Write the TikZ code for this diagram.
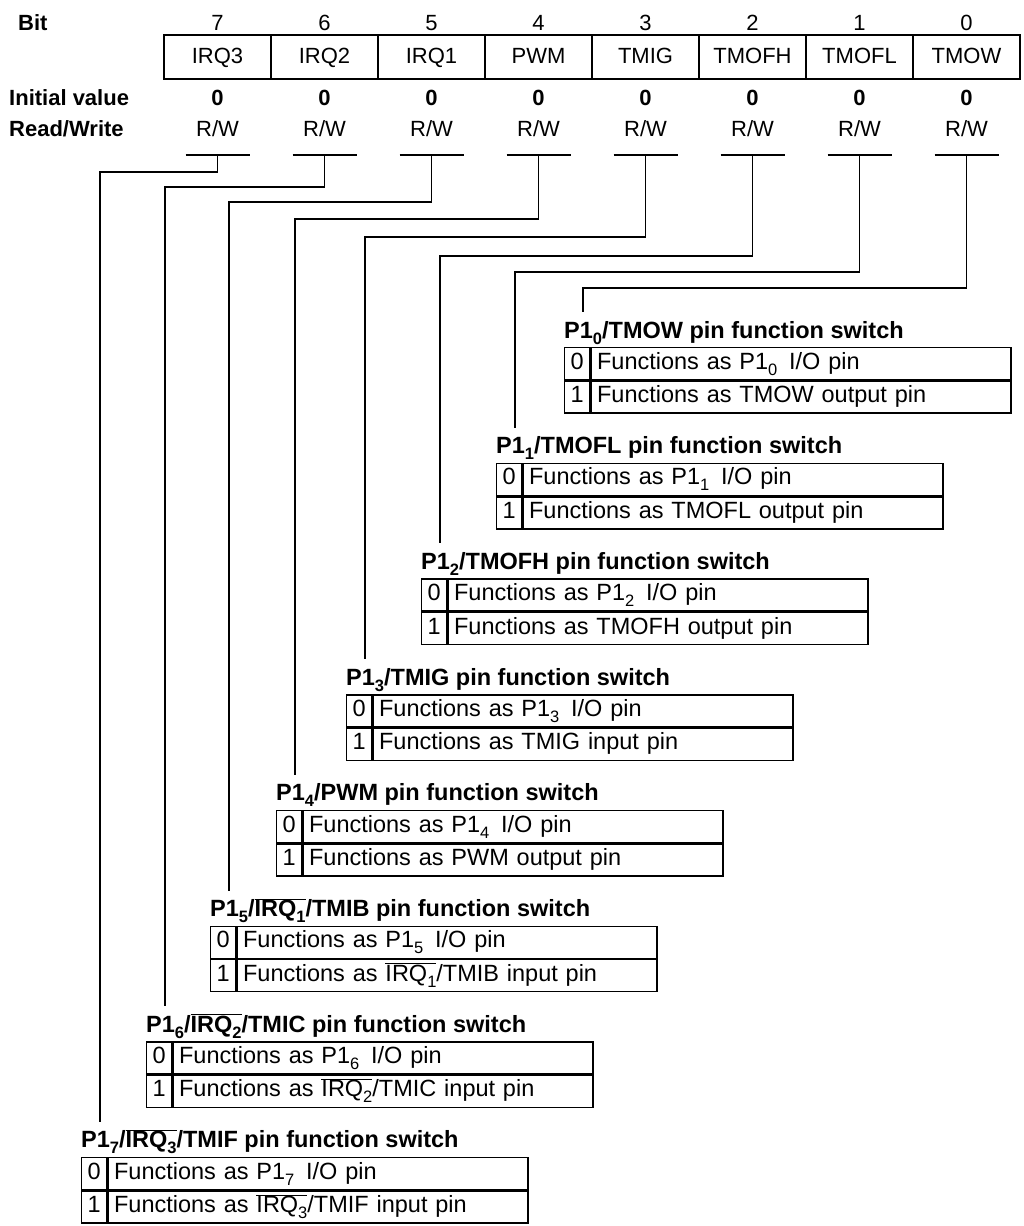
\documentclass[tikz,border=0pt]{standalone}
\usepackage{fontspec}
\setmainfont{Liberation Sans}
\usetikzlibrary{calc}
\newcommand{\sbs}[1]{\raisebox{-6pt}{\fontsize{16.5}{16.5}\selectfont #1}}
\newcommand{\myovl}[1]{$\overline{\hbox{#1}}$}
\newcommand{\pintable}[5]{%
  \pgfmathsetmacro{\ty}{330+115.7*#1}%
  \node[ttl] (t#1) at (#2-19, \ty+8) {#3};
  \coordinate (e#1) at (#2, \ty-18);
  \node[dig] (z#1) at (#2-19, \ty+17) {0};
  \node[txt] (r#1) at (z#1.north east) {#4};
  \node[dig] (o#1) at (z#1.south west) {1};
  \node[txt] (s#1) at (o#1.north east) {#5};
}
\begin{document}
\begin{tikzpicture}[x=1pt,y=-1pt,
  every node/.style={font=\fontsize{22}{26}\selectfont, inner sep=0pt},
  lbl/.style={font=\fontsize{22}{26}\selectfont\bfseries, anchor=base west},
  cell/.style={draw, line width=1.4pt, minimum width=107pt, minimum height=44pt, text height=16pt, text depth=4pt},
  wire/.style={line width=1.6pt},
  ttl/.style={font=\fontsize{23.5}{27}\selectfont\bfseries, anchor=base west},
  dig/.style={draw, line width=1.4pt, minimum width=25pt, minimum height=32pt, anchor=north west, text height=16pt, text depth=5pt, font=\fontsize{23.5}{27}\selectfont},
  txt/.style={draw, line width=1.4pt, minimum width=420pt, minimum height=32pt, anchor=north west, text width=408pt, align=left, inner xsep=6pt, text height=16pt, text depth=5pt, font=\fontsize{23.5}{27}\selectfont}
]
\useasboundingbox (0,0) rectangle (1024,1226);
\node[lbl] (bitl) at (18,30) {Bit};
\node[lbl] (ivl) at (9,105) {Initial value};
\node[lbl] (rwl) at (9,136) {Read/Write};

\pintable{0}{583}{P1\sbs{0}/TMOW pin function switch}{Functions as P1\sbs{0}\, I/O pin}{Functions as TMOW output pin}
\pintable{1}{515}{P1\sbs{1}/TMOFL pin function switch}{Functions as P1\sbs{1}\, I/O pin}{Functions as TMOFL output pin}
\pintable{2}{440}{P1\sbs{2}/TMOFH pin function switch}{Functions as P1\sbs{2}\, I/O pin}{Functions as TMOFH output pin}
\pintable{3}{365}{P1\sbs{3}/TMIG pin function switch}{Functions as P1\sbs{3}\, I/O pin}{Functions as TMIG input pin}
\pintable{4}{295}{P1\sbs{4}/PWM pin function switch}{Functions as P1\sbs{4}\, I/O pin}{Functions as PWM output pin}
\pintable{5}{229}{P1\sbs{5}/\myovl{IRQ\sbs{1}}/TMIB pin function switch}{Functions as P1\sbs{5}\, I/O pin}{Functions as \myovl{IRQ\sbs{1}}/TMIB input pin}
\pintable{6}{165}{P1\sbs{6}/\myovl{IRQ\sbs{2}}/TMIC pin function switch}{Functions as P1\sbs{6}\, I/O pin}{Functions as \myovl{IRQ\sbs{2}}/TMIC input pin}
\pintable{7}{100}{P1\sbs{7}/\myovl{IRQ\sbs{3}}/TMIF pin function switch}{Functions as P1\sbs{7}\, I/O pin}{Functions as \myovl{IRQ\sbs{3}}/TMIF input pin}

\foreach \k/\nm/\hy/\vx in {7/IRQ3/172/100, 6/IRQ2/187/165, 5/IRQ1/202/229, 4/PWM/219/295, 3/TMIG/237/365, 2/TMOFH/256/440, 1/TMOFL/272/515, 0/TMOW/288/583} {
  \pgfmathsetmacro{\cx}{217.5+107*(7-\k)}
  \node[anchor=base] (b\k) at (\cx,30) {\k};
  \node[cell] (c\k) at (\cx,57) {\nm};
  \node[anchor=base, font=\fontsize{22}{26}\selectfont\bfseries] (i\k) at (\cx,105) {0};
  \node[anchor=base] (w\k) at (\cx,136) {R/W};
  \coordinate (u\k) at (\cx,155);
  \coordinate (m\k) at (\vx,\hy);
  \draw[wire] ($(u\k)+(-32,0)$) -- ($(u\k)+(32,0)$);
  \draw[wire] (u\k) |- (m\k) -- (e\k);
}
\end{tikzpicture}
\end{document}
